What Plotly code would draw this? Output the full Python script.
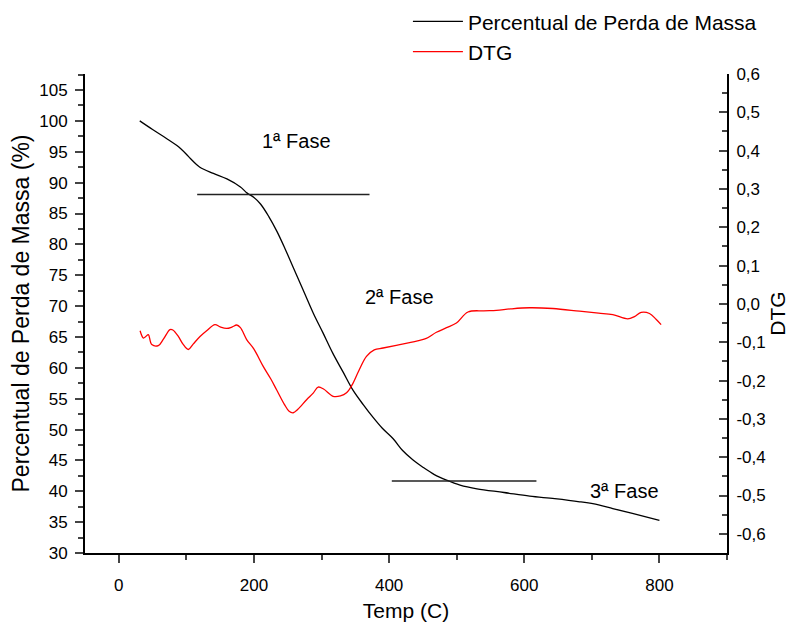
import plotly.graph_objects as go

# ---- data ----
temp_tg = [31, 50, 70, 86, 100, 106, 120, 140, 160, 180, 190, 200, 210, 222, 234, 246, 258,
           272, 288, 302, 317, 332, 347, 362, 376, 390, 406, 420, 435, 450, 467, 485, 505,
           530, 570, 608, 645, 682, 710, 731, 760, 800]
perda_massa = [100.0, 98.6, 97.2, 96.0, 94.6, 93.9, 92.5, 91.5, 90.6, 89.3, 88.3, 87.6, 86.5,
               84.5, 82.1, 79.3, 76.3, 72.8, 68.8, 65.7, 62.3, 59.3, 56.3, 54.0, 52.0, 50.2,
               48.5, 46.6, 45.1, 43.9, 42.7, 41.8, 41.0, 40.4, 39.8, 39.2, 38.8, 38.3, 37.8,
               37.2, 36.4, 35.3]

temp_dtg = [31.5, 36.4, 40, 43.7, 48.8, 58.5, 66, 75.8, 80, 88.1, 95, 102.9, 110, 120.2, 130,
            142.3, 150, 159.6, 168, 174.4, 180, 189.2, 200, 213.7, 225, 233.5, 245, 252, 258.1,
            265, 277.9, 288, 295, 303, 317.2, 328, 337, 345, 355, 366.5, 378, 391.1, 415.8,
            445.3, 455, 470, 485, 499.6, 516.7, 540, 558.7, 580, 607.9, 642.3, 681.8, 710, 731,
            753.2, 763, 773, 785.3, 795, 802.5]
dtg = [-0.070, -0.089, -0.085, -0.080, -0.106, -0.109, -0.092, -0.067, -0.068, -0.085, -0.105,
       -0.119, -0.105, -0.085, -0.070, -0.054, -0.060, -0.064, -0.060, -0.055, -0.062, -0.093,
       -0.118, -0.163, -0.196, -0.224, -0.262, -0.280, -0.284, -0.275, -0.250, -0.232, -0.217,
       -0.222, -0.241, -0.240, -0.232, -0.212, -0.175, -0.137, -0.120, -0.115, -0.106, -0.095,
       -0.090, -0.074, -0.062, -0.050, -0.021, -0.018, -0.017, -0.013, -0.010, -0.012, -0.019,
       -0.024, -0.028, -0.039, -0.033, -0.022, -0.025, -0.040, -0.054]

# phase marker lines (x start, x end, level in %)
fase_x0 = [116, 404]
fase_x1 = [371, 618]
fase_y = [88.07, 41.66]

# phase labels
fase_labels = ["1ª Fase", "2ª Fase", "3ª Fase"]
fase_label_x = [263.5, 415.8, 748.3]
fase_label_y = [96.8, 71.4, 40.0]

# tick labels
left_ticks = list(range(30, 106, 5))
right_tick_vals = [-0.6, -0.5, -0.4, -0.3, -0.2, -0.1, 0.0, 0.1, 0.2, 0.3, 0.4, 0.5, 0.6]
right_tick_text = ["-0,6", "-0,5", "-0,4", "-0,3", "-0,2", "-0,1", "0,0",
                   "0,1", "0,2", "0,3", "0,4", "0,5", "0,6"]
x_ticks = [0, 200, 400, 600, 800]

FONT = "Liberation Sans, Arial, sans-serif"

fig = go.Figure()
fig.add_trace(go.Scatter(x=temp_tg, y=perda_massa, mode="lines",
                         name="Percentual de Perda de Massa",
                         line=dict(color="black", width=1.3, shape="spline"), yaxis="y"))
fig.add_trace(go.Scatter(x=temp_dtg, y=dtg, mode="lines", name="DTG",
                         line=dict(color="#ff0000", width=1.3, shape="spline"), yaxis="y2"))

for x0, x1, yv in zip(fase_x0, fase_x1, fase_y):
    fig.add_shape(type="line", xref="x", yref="y", x0=x0, x1=x1, y0=yv, y1=yv,
                  line=dict(color="#222222", width=1.5))

for t, xv, yv in zip(fase_labels, fase_label_x, fase_label_y):
    fig.add_annotation(text=t, x=xv, y=yv, xref="x", yref="y", showarrow=False,
                       font=dict(size=20, color="black", family=FONT))

fig.update_layout(
    width=790, height=616, autosize=False,
    margin=dict(l=77, r=71, t=66, b=71, autoexpand=False),
    paper_bgcolor="white", plot_bgcolor="white",
    font=dict(family=FONT, color="black", size=17),
    showlegend=True,
    legend=dict(x=0.503, y=1.152, xanchor="left", yanchor="top",
                font=dict(size=21, family=FONT, color="black"),
                bgcolor="rgba(0,0,0,0)", tracegroupgap=0, itemwidth=50),
    xaxis=dict(range=[-50, 900], tickvals=x_ticks, ticks="outside", ticklen=8,
               tickwidth=2, showline=True, linewidth=2, linecolor="black",
               showgrid=False, zeroline=False, automargin=False,
               ticklabelstandoff=8,
               minor=dict(dtick=100, tick0=0, ticks="outside", ticklen=5, tickwidth=2,
                          showgrid=False),
               title=dict(text="Temp (C)", font=dict(size=21), standoff=9),
               tickfont=dict(size=17)),
    yaxis=dict(range=[30, 107.6], tickvals=left_ticks, ticks="outside", ticklen=8,
               tickwidth=2, showline=True, linewidth=2, linecolor="black",
               showgrid=False, zeroline=False, automargin=False,
               ticklabelstandoff=4,
               minor=dict(dtick=2.5, tick0=30, ticks="outside", ticklen=5, tickwidth=2,
                          showgrid=False),
               title=dict(text="Percentual de Perda de Massa (%)", font=dict(size=23),
                          standoff=5),
               tickfont=dict(size=17)),
    yaxis2=dict(range=[-0.65, 0.6], overlaying="y", side="right",
                tickvals=right_tick_vals, ticktext=right_tick_text,
                ticks="inside", ticklen=8, tickwidth=2,
                showline=True, linewidth=2, linecolor="black",
                showgrid=False, zeroline=False, automargin=False,
                minor=dict(dtick=0.05, tick0=0, ticks="inside", ticklen=5, tickwidth=2,
                           showgrid=False),
                ticklabelstandoff=4,
                title=dict(text="DTG", font=dict(size=21), standoff=4),
                tickfont=dict(size=17)),
)

fig.write_html("out.html")
